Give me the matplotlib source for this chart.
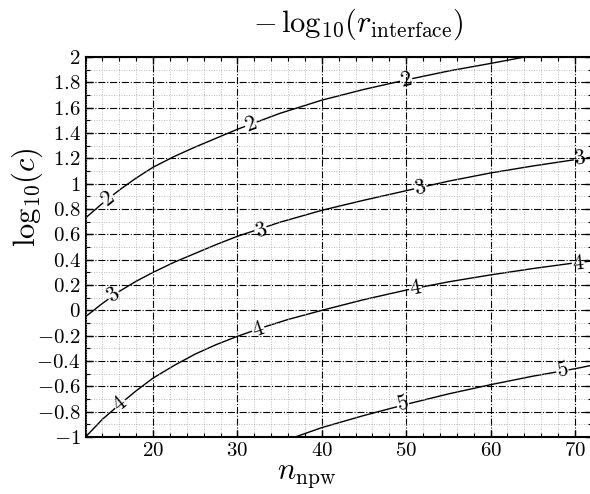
import numpy as np
import matplotlib
matplotlib.use("Agg")
import matplotlib.pyplot as plt
from matplotlib.ticker import MultipleLocator

plt.rcParams["mathtext.fontset"] = "cm"
plt.rcParams["font.family"] = "serif"
plt.rcParams["font.serif"] = ["cmr10"]
plt.rcParams["axes.formatter.use_mathtext"] = True

# уровни и точки контуров
levels = [2, 3, 4, 5]

c2_x = [12, 14, 16, 18, 20, 22.5, 25, 27.5, 30, 35, 40, 45, 50, 55, 60, 64]
c2_y = [0.73, 0.845, 0.95, 1.045, 1.13, 1.215, 1.29, 1.36, 1.43, 1.555, 1.66, 1.745, 1.82, 1.89, 1.95, 2.0]

c3_x = [12, 14, 16, 18, 20, 22.5, 25, 27.5, 30, 35, 40, 45, 50, 55, 60, 65, 70, 72]
c3_y = [-0.05, 0.055, 0.15, 0.23, 0.30, 0.38, 0.45, 0.52, 0.585, 0.695, 0.79, 0.87, 0.945,
        1.02, 1.085, 1.14, 1.19, 1.21]

c4_x = [12, 14, 16, 18, 20, 22.5, 25, 27.5, 30, 33, 36, 40, 45, 50, 55, 60, 65, 70, 72]
c4_y = [-1.0, -0.86, -0.745, -0.635, -0.535, -0.435, -0.345, -0.27, -0.205, -0.135, -0.072,
        0.0, 0.085, 0.16, 0.225, 0.28, 0.33, 0.375, 0.39]

c5_x = [36.85, 40, 45, 50, 55, 60, 65, 70, 72]
c5_y = [-1.0, -0.926, -0.83, -0.742, -0.66, -0.587, -0.52, -0.461, -0.434]

curves_x = [c2_x, c3_x, c4_x, c5_x]
curves_y = [c2_y, c3_y, c4_y, c5_y]

# позиции подписей уровней
lab2 = [(14.7, 0.88), (31.6, 1.47), (50.0, 1.82)]
lab3 = [(15.3, 0.12), (32.8, 0.63), (51.7, 0.963), (70.6, 1.20)]
lab4 = [(16.1, -0.74), (32.5, -0.155), (51.1, 0.177), (70.4, 0.37)]
lab5 = [(49.6, -0.74), (68.5, -0.47)]
labels_pos = [lab2, lab3, lab4, lab5]

x_ticks = [20, 30, 40, 50, 60, 70]
y_ticks = [-1, -0.8, -0.6, -0.4, -0.2, 0, 0.2, 0.4, 0.6, 0.8, 1, 1.2, 1.4, 1.6, 1.8, 2]
y_ticklabels = ["$-1$", "$-0.8$", "$-0.6$", "$-0.4$", "$-0.2$", "$0$", "$0.2$", "$0.4$",
                "$0.6$", "$0.8$", "$1$", "$1.2$", "$1.4$", "$1.6$", "$1.8$", "$2$"]
x_ticklabels = ["$%d$" % t for t in x_ticks]

fig = plt.figure(figsize=(5.9, 4.94), dpi=100)
ax = fig.add_axes([0.145, 0.1154, 0.858, 0.769])
ax.set_xlim(12, 72)
ax.set_ylim(-1, 2)

for lev, xs, ys, labs in zip(levels, curves_x, curves_y, labels_pos):
    ax.plot(xs, ys, color="k", lw=1.0, zorder=2)
    for lx, ly in labs:
        # угол наклона по соседним точкам
        i = np.searchsorted(xs, lx)
        i = min(max(i, 1), len(xs) - 1)
        ang = np.degrees(np.arctan2(ys[i] - ys[i - 1], xs[i] - xs[i - 1]))
        ax.text(lx, ly, "$%d$" % lev, fontsize=16, ha="center", va="center",
                rotation=ang, rotation_mode="anchor", transform_rotates_text=True,
                bbox=dict(fc="white", ec="none", pad=0.2), zorder=2.2)

ax.set_xticks(x_ticks, x_ticklabels)
ax.set_yticks(y_ticks, y_ticklabels)
ax.xaxis.set_minor_locator(MultipleLocator(2))
ax.yaxis.set_minor_locator(MultipleLocator(0.1))
ax.tick_params(which="both", direction="in", top=True, right=True, labelsize=15)
ax.tick_params(which="major", length=5, width=1)
ax.tick_params(which="minor", length=3, width=0.8)

ax.set_axisbelow(False)
ax.grid(which="major", ls="-.", color="k", lw=0.8)
ax.grid(which="minor", ls=(0, (1, 2)), color="0.65", lw=0.6)

for sp in ax.spines.values():
    sp.set_linewidth(1.5)

fig.text(0.608, 0.951, r"$-\,\mathrm{log}_{10}(r_{\rm interface})$", fontsize=22, ha="center", va="center")
fig.text(0.519, 0.035, r"$n_{\rm npw}$", fontsize=22, ha="center", va="center")
fig.text(0.047, 0.601, r"$\mathrm{log}_{10}(c)$", fontsize=22, ha="center", va="center", rotation=90)

fig.savefig("out.png", dpi=100)
